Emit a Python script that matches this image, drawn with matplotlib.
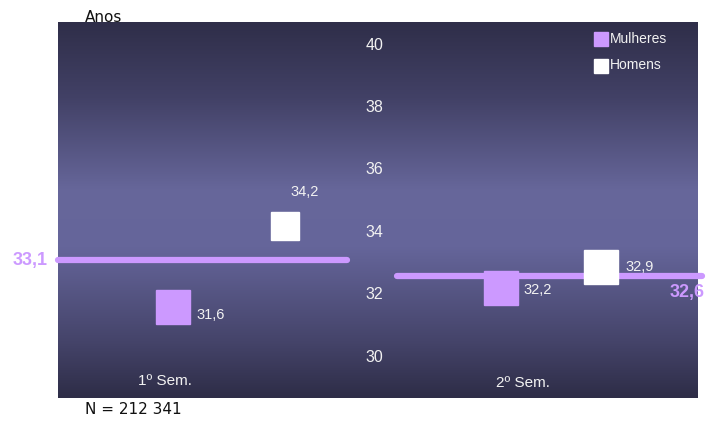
import numpy as np
from matplotlib import pyplot as plt
from matplotlib.colors import LinearSegmentedColormap

semesters = ['1º Sem.', '2º Sem.']
mulheres = [31.6, 32.2]
homens = [34.2, 32.9]
media = [33.1, 32.6]
yticks = [30, 32, 34, 36, 38, 40]

fig = plt.figure(figsize=(7.13, 4.25), dpi=100)
ax = fig.add_axes([58 / 713, 1 - 398 / 425, 640 / 713, 376 / 425])
ax.set_xlim(0, 1)
ax.set_ylim(28.69, 40.74)
ax.axis('off')

# background gradient: dark at top and bottom, lighter band a bit below middle
cmap = LinearSegmentedColormap.from_list('bg', [
    (0.0, '#2f2e49'), (0.2, '#424166'), (0.45, '#67679b'), (0.6, '#65659a'),
    (0.85, '#45446a'), (1.0, '#2e2d47')])
grad = np.linspace(0, 1, 256).reshape(-1, 1)
ax.imshow(grad, cmap=cmap, aspect='auto', extent=[0, 1, 28.69, 40.74],
          zorder=0, interpolation='bicubic')

purple = '#cc99ff'
txt = '#f2f2f2'
fam = 'Liberation Sans'

# y tick labels drawn in the middle of the chart
for t in yticks:
    ax.text(0.494, t, str(t), color=txt, fontsize=11.5, ha='center', va='center',
            family=fam)

lab = lambda v: f'{v:.1f}'.replace('.', ',')

# average lines per semester
spans = [(0.0, 0.452), (0.53, 1.006)]
for (x0, x1), m in zip(spans, media):
    ax.plot([x0, x1], [m, m], color=purple, lw=4.5, solid_capstyle='round',
            clip_on=False, zorder=2)
ax.text(-0.0156, media[0], lab(media[0]), color=purple, fontsize=13,
        fontweight='bold', ha='right', va='center', family=fam)
ax.text(1.011, media[1] - 0.52, lab(media[1]), color=purple, fontsize=13,
        fontweight='bold', ha='right', va='center', family=fam)

# markers
xm = [0.18, 0.692]
xh = [0.355, 0.848]
ax.plot(xm, mulheres, ls='none', marker='s', ms=25, color=purple, zorder=3)
ax.plot(xh[0], homens[0], ls='none', marker='s', ms=19.5, color='white', zorder=3)
ax.plot(xh[1], homens[1], ls='none', marker='s', ms=25, color='white', zorder=3)

ax.text(0.2156, mulheres[0] - 0.26, lab(mulheres[0]), color=txt, fontsize=10.5,
        va='center', family=fam)
ax.text(0.3625, homens[0] + 1.08, lab(homens[0]), color=txt, fontsize=10.5,
        va='center', family=fam)
ax.text(0.728, mulheres[1] - 0.05, lab(mulheres[1]), color=txt, fontsize=10.5,
        va='center', family=fam)
ax.text(0.886, homens[1] - 0.02, lab(homens[1]), color=txt, fontsize=10.5,
        va='center', family=fam)

# category labels
for x, y, s in zip([0.167, 0.727], [29.23, 29.17], semesters):
    ax.text(x, y, s, color=txt, fontsize=11, ha='center', va='center', family=fam)

# legend
ax.plot(0.849, 40.18, marker='s', ms=9.8, color=purple, clip_on=False)
ax.text(0.8625, 40.2, 'Mulheres', color=txt, fontsize=10, va='center', family=fam)
ax.plot(0.849, 39.34, marker='s', ms=9.8, color='white', clip_on=False)
ax.text(0.8625, 39.36, 'Homens', color=txt, fontsize=10, va='center', family=fam)

fig.text(85 / 713, 1 - 17 / 425, 'Anos', fontsize=11, va='center', color='#111111')
fig.text(85 / 713, 1 - 410 / 425, 'N = 212 341', fontsize=11, va='center',
         color='#111111')

fig.savefig('out.png', dpi=100)
